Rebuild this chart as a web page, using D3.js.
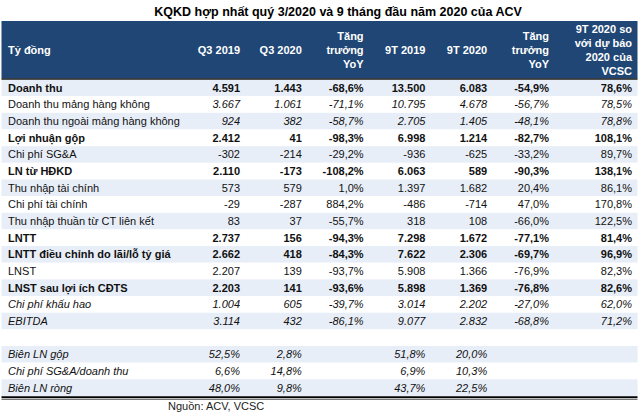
<!DOCTYPE html>
<html>
<head>
<meta charset="utf-8">
<script src="https://cdn.jsdelivr.net/npm/d3@7"></script>
<style>
  html, body { margin: 0; padding: 0; background: #ffffff; }
  svg { display: block; font-family: "Liberation Sans", Arial, sans-serif; }
</style>
</head>
<body>
<svg id="chart" width="640" height="420"></svg>
<script>
// ---------- DATA ----------
const title = "KQKD hợp nhất quý 3/2020 và 9 tháng đầu năm 2020 của ACV";
const source = "Nguồn: ACV, VCSC";
const headerFirst = "Tỷ đồng";
const headers = [
  ["Q3 2019"],
  ["Q3 2020"],
  ["Tăng", "trưởng", "YoY"],
  ["9T 2019"],
  ["9T 2020"],
  ["Tăng", "trưởng", "YoY"],
  ["9T 2020 so", "với dự báo", "2020 của", "VCSC"]
];
const rowLabels = [
  "Doanh thu", "Doanh thu mảng hàng không", "Doanh thu ngoài mảng hàng không",
  "Lợi nhuận gộp", "Chi phí SG&A", "LN từ HĐKD", "Thu nhập tài chính",
  "Chi phí tài chính", "Thu nhập thuần từ CT liên kết", "LNTT",
  "LNTT điều chỉnh do lãi/lỗ tỷ giá", "LNST", "LNST sau lợi ích CĐTS",
  "Chi phí khấu hao", "EBITDA", "",
  "Biên LN gộp", "Chi phí SG&A/doanh thu", "Biên LN ròng"
];
// row style: b = bold, n = normal, i = italic numbers, I = italic label+numbers
const rowStyles = ["b","i","i","b","n","b","n","n","n","b","b","n","b","I","I","n","I","I","I"];
const q3_2019 = [4591, 3667, 924, 2412, -302, 2110, 573, -29, 83, 2737, 2662, 2207, 2203, 1004, 3114, null, 52.5, 6.6, 48.0];
const q3_2020 = [1443, 1061, 382, 41, -214, -173, 579, -287, 37, 156, 418, 139, 141, 605, 432, null, 2.8, 14.8, 9.8];
const yoyQ3   = [-68.6, -71.1, -58.7, -98.3, -29.2, -108.2, 1.0, 884.2, -55.7, -94.3, -84.3, -93.7, -93.6, -39.7, -86.1, null, null, null, null];
const t9_2019 = [13500, 10795, 2705, 6998, -936, 6063, 1397, -486, 318, 7298, 7622, 5908, 5898, 3014, 9077, null, 51.8, 6.9, 43.7];
const t9_2020 = [6083, 4678, 1405, 1214, -625, 589, 1682, -714, 108, 1672, 2306, 1366, 1369, 2202, 2832, null, 20.0, 10.3, 22.5];
const yoy9T   = [-54.9, -56.7, -48.1, -82.7, -33.2, -90.3, 20.4, 47.0, -66.0, -77.1, -69.7, -76.9, -76.8, -27.0, -68.8, null, null, null, null];
const vsForecast = [78.6, 78.5, 78.8, 108.1, 89.7, 138.1, 86.1, 170.8, 122.5, 81.4, 96.9, 82.3, 82.6, 62.0, 71.2, null, null, null, null];
const percentRows = [16, 17, 18];

// ---------- RENDER ----------
const svg = d3.select("#chart");
const vn = d3.formatLocale({ decimal: ",", thousands: ".", grouping: [3], currency: ["", ""], minus: "-" });
const fInt = vn.format(",.0f");
const fPct = v => vn.format(",.1f")(v) + "%";

const columns = [q3_2019, q3_2020, yoyQ3, t9_2019, t9_2020, yoy9T, vsForecast];
const colIsPct = [false, false, true, false, false, true, true];

const tableLeft = 1.5, tableRight = 637.5;
const headerTop = 21, headerBottom = 78.5;
const y = d3.scaleBand().domain(d3.range(rowLabels.length)).range([79.5, 396]).paddingInner(0);
const colX = d3.scaleLinear().domain([0, 5]).range([240, 549]);
const colRight = i => (i < 6 ? colX(i) : 632);

// title
svg.append("text").attr("x", 338).attr("y", 16)
  .attr("text-anchor", "middle").attr("font-weight", "bold").attr("font-size", 12.5)
  .attr("fill", "#000").text(title);

// header band
svg.append("rect").attr("x", tableLeft).attr("y", headerTop)
  .attr("width", tableRight - tableLeft).attr("height", headerBottom - headerTop)
  .attr("fill", "#1f4675");

svg.append("text").attr("x", 8).attr("y", 54)
  .attr("fill", "#fff").attr("font-weight", "bold").attr("font-size", 11).text(headerFirst);

headers.forEach((lines, ci) => {
  const lh = 14;
  const c = 49.5;
  const start = c - (lines.length - 1) * lh / 2;
  const t = svg.append("text").attr("text-anchor", "end").attr("fill", "#fff")
    .attr("font-weight", "bold").attr("font-size", 11);
  lines.forEach((ln, li) => {
    t.append("tspan").attr("x", colRight(ci)).attr("y", start + li * lh + 4).text(ln);
  });
});

// rows background
svg.append("g").selectAll("rect").data(d3.range(rowLabels.length)).join("rect")
  .attr("x", tableLeft).attr("width", tableRight - tableLeft)
  .attr("y", d => y(d)).attr("height", y.bandwidth())
  .attr("fill", d => d % 2 === 0 ? "#e8eef8" : "#ffffff");

// header bottom line
svg.append("line").attr("x1", tableLeft).attr("x2", tableRight)
  .attr("y1", headerBottom + 0.5).attr("y2", headerBottom + 0.5)
  .attr("stroke", "#1a1a1a").attr("stroke-width", 1.5);

// row labels
const rowsG = svg.append("g").attr("font-size", 11).attr("fill", "#111");
rowsG.selectAll("text.lab").data(d3.range(rowLabels.length)).join("text")
  .attr("class", "lab")
  .attr("x", 8).attr("y", d => y(d) + y.bandwidth() / 2 + 4)
  .attr("font-weight", d => rowStyles[d] === "b" ? "bold" : "normal")
  .attr("font-style", d => rowStyles[d] === "I" ? "italic" : "normal")
  .text(d => rowLabels[d]);

// cell values
columns.forEach((col, ci) => {
  rowsG.append("g").selectAll("text").data(d3.range(rowLabels.length).filter(r => col[r] !== null)).join("text")
    .attr("x", colRight(ci)).attr("text-anchor", "end")
    .attr("y", d => y(d) + y.bandwidth() / 2 + 4)
    .attr("font-weight", d => rowStyles[d] === "b" ? "bold" : "normal")
    .attr("font-style", d => (rowStyles[d] === "i" || rowStyles[d] === "I") ? "italic" : "normal")
    .text(d => (colIsPct[ci] || percentRows.includes(d)) ? fPct(col[d]) : fInt(col[d]));
});

// bottom double line
svg.append("line").attr("x1", tableLeft).attr("x2", tableRight)
  .attr("y1", 397.2).attr("y2", 397.2).attr("stroke", "#000").attr("stroke-width", 2);
svg.append("line").attr("x1", tableLeft).attr("x2", tableRight)
  .attr("y1", 399.5).attr("y2", 399.5).attr("stroke", "#555").attr("stroke-width", 0.8);

// source
svg.append("text").attr("x", 168).attr("y", 410)
  .attr("font-size", 11).attr("fill", "#222").text(source);
</script>
</body>
</html>
